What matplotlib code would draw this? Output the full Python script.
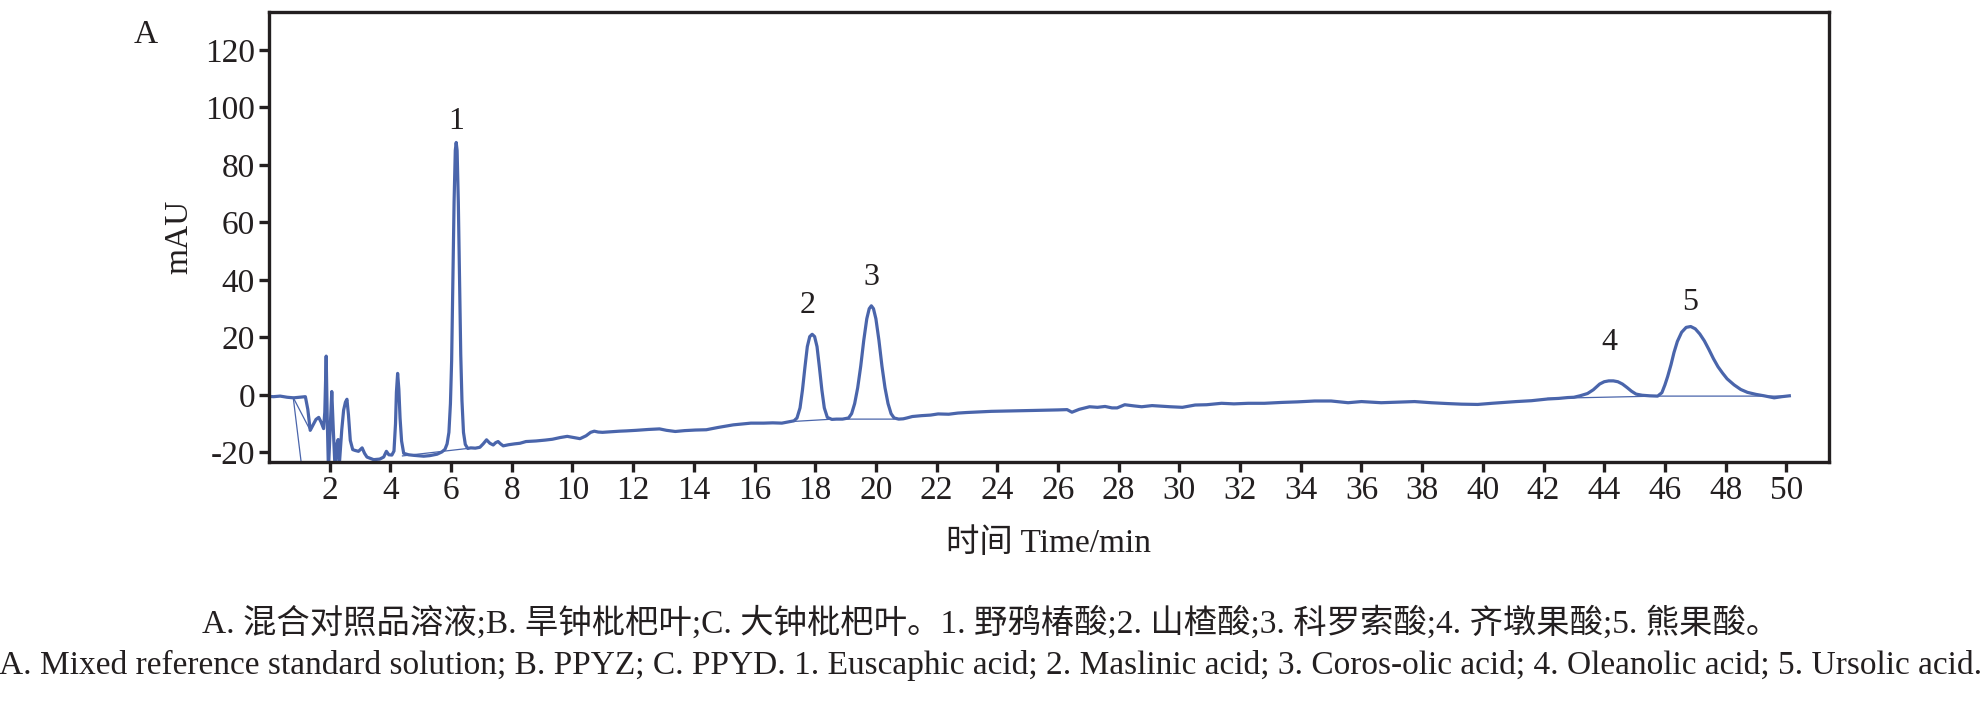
import matplotlib
matplotlib.use("Agg")
import matplotlib.pyplot as plt

# chromatogram trace (time in min, signal in mAU)
t_min = [0.00, 0.15, 0.37, 0.60, 0.81, 1.00, 1.20, 1.28, 1.36, 1.45, 1.55, 1.64, 1.72, 1.80,
         1.84, 1.886, 1.92, 1.96, 2.01, 2.07, 2.12, 2.18, 2.24, 2.28, 2.32, 2.40, 2.46, 2.52,
         2.57, 2.62, 2.68, 2.76, 2.84, 2.95, 3.07, 3.15, 3.23, 3.45, 3.65, 3.78, 3.87, 3.95,
         4.05, 4.12, 4.17, 4.20, 4.24, 4.28, 4.32, 4.37, 4.44, 4.60, 4.77, 5.10, 5.30, 5.54,
         5.70,
         # peak 1
         5.80, 5.87, 5.93, 5.98, 6.02, 6.06, 6.10, 6.14, 6.17, 6.20, 6.24, 6.28, 6.32, 6.36,
         6.41, 6.47, 6.55,
         6.65, 6.80, 6.95, 7.06, 7.17, 7.28, 7.39, 7.47, 7.55, 7.63, 7.72, 7.90, 8.10, 8.27,
         8.47, 8.80, 9.10, 9.34, 9.60, 9.83, 10.05, 10.25, 10.45, 10.60, 10.72, 10.85, 10.99,
         11.25, 11.55, 11.77, 12.10, 12.50, 12.87, 13.10, 13.39, 13.70, 14.05, 14.41, 14.80,
         15.30, 15.60, 15.88, 16.30, 16.60, 16.90, 17.10,
         # peak 2
         17.30, 17.40, 17.50, 17.58, 17.66, 17.74, 17.82, 17.90, 17.98, 18.06, 18.14, 18.22,
         18.30, 18.40, 18.55, 18.70, 18.90,
         # peak 3
         19.10, 19.20, 19.30, 19.40, 19.50, 19.60, 19.70, 19.78, 19.85, 19.92, 20.00, 20.10,
         20.20, 20.30, 20.40, 20.50, 20.60, 20.75,
         20.90, 21.02, 21.20, 21.50, 21.80, 22.05, 22.40, 22.70, 23.00, 23.37, 23.50, 23.80,
         24.20, 24.60, 25.14, 25.60, 26.00, 26.30, 26.46, 26.70, 27.04, 27.30, 27.55, 27.78,
         27.95, 28.20, 28.50, 28.76, 29.10, 29.40, 29.70, 30.10, 30.52, 30.90, 31.39, 31.80,
         32.27, 32.80, 33.37, 33.90, 34.46, 35.00, 35.56, 36.00, 36.30, 36.65, 37.20, 37.75,
         38.30, 38.85, 39.30, 39.83, 40.30, 40.70, 41.10, 41.60, 42.14, 42.50, 42.80, 43.00,
         # peak 4
         43.20, 43.45, 43.64, 43.85, 44.00, 44.15, 44.30, 44.45, 44.60, 44.75, 44.90, 45.05,
         45.25, 45.50, 45.76,
         # peak 5
         45.90, 46.00, 46.09, 46.20, 46.30, 46.41, 46.55, 46.70, 46.85, 47.00, 47.15, 47.30,
         47.45, 47.60, 47.75, 47.90, 48.05, 48.28, 48.50, 48.72, 49.00, 49.27, 49.60, 49.85,
         50.10]

mau = [-0.5, -0.6, -0.4, -0.8, -1.0, -0.8, -0.6, -5.0, -12.3, -10.5, -8.5, -7.8, -9.5, -11.7,
       -6.0, 13.5, -8.0, -26.0, -14.0, 1.2, -12.0, -26.0, -17.0, -15.5, -24.0, -12.0, -5.3, -2.5,
       -1.5, -7.0, -15.8, -19.0, -19.3, -19.6, -18.4, -20.3, -21.6, -22.5, -22.3, -21.6, -19.6, -20.8,
       -20.9, -19.5, -10.0, 1.0, 7.5, 2.0, -8.0, -16.0, -20.3, -20.8, -21.0, -21.3, -21.1, -20.6,
       -19.8,
       -18.9, -17.0, -13.0, -3.0, 12.0, 40.0, 67.0, 85.0, 87.8, 85.0, 67.0, 40.0, 14.0, -2.0,
       -13.0, -17.2, -18.6,
       -18.4, -18.5, -18.2, -17.0, -15.6, -16.8, -17.4, -16.6, -16.2, -17.0, -17.7, -17.3, -17.0, -16.8,
       -16.2, -16.0, -15.7, -15.4, -14.8, -14.4, -14.8, -15.2, -14.2, -13.0, -12.6, -12.9, -13.0,
       -12.8, -12.6, -12.5, -12.3, -12.0, -11.8, -12.3, -12.7, -12.4, -12.2, -12.1, -11.3,
       -10.4, -10.1, -9.8, -9.8, -9.7, -9.8, -9.4,
       -9.0, -8.0, -4.5, 1.7, 9.5, 16.8, 20.3, 21.1, 20.3, 16.8, 9.5, 1.7,
       -4.5, -7.8, -8.5, -8.4, -8.4,
       -8.0, -6.5, -3.0, 2.5, 10.0, 19.0, 26.5, 30.0, 31.0, 30.0, 26.5, 19.0,
       10.0, 2.5, -3.0, -6.5, -8.0, -8.4,
       -8.3, -8.0, -7.5, -7.2, -7.0, -6.6, -6.7, -6.3, -6.1, -5.9, -5.8, -5.7,
       -5.6, -5.5, -5.4, -5.3, -5.2, -5.1, -6.0, -5.0, -4.1, -4.3, -4.0, -4.5,
       -4.5, -3.4, -3.8, -4.1, -3.7, -3.9, -4.1, -4.3, -3.5, -3.4, -2.9, -3.1,
       -2.9, -2.9, -2.6, -2.4, -2.1, -2.1, -2.7, -2.3, -2.5, -2.7, -2.5, -2.3,
       -2.7, -3.0, -3.2, -3.3, -2.9, -2.6, -2.3, -2.0, -1.4, -1.2, -0.9, -0.8,
       -0.3, 0.5, 1.8, 3.8, 4.6, 4.9, 4.9, 4.6, 3.8, 2.6, 1.3, 0.3,
       -0.1, -0.3, -0.4,
       0.8, 3.5, 6.4, 10.5, 14.8, 18.6, 21.8, 23.5, 23.8, 23.0, 21.2, 18.8,
       15.8, 12.6, 9.8, 7.6, 5.6, 3.5, 1.9, 0.9, 0.2, -0.3, -1.0, -0.6,
       -0.3]

# integration baselines (thin lines)
base_t = [[0.80, 1.08], [0.80, 1.36], [4.40, 6.55], [17.30, 18.60, 20.60], [42.14, 45.76, 50.10]]
base_y = [[-0.9, -25.0], [-0.9, -12.3], [-21.2, -18.6], [-9.2, -8.4, -8.4], [-1.2, -0.4, -0.4]]

# peak numbers
peak_names = ["1", "2", "3", "4", "5"]
peak_t = [6.17, 17.76, 19.84, 44.17, 46.83]
peak_y = [95.0, 31.0, 40.7, 18.3, 32.3]

y_ticks = [-20, 0, 20, 40, 60, 80, 100, 120]
y_ticklabels = ["-20", "0", "20", "40", "60", "80", "100", "120"]

caption_cn = "A. 混合对照品溶液;B. 旱钟枇杷叶;C. 大钟枇杷叶。1. 野鸦椿酸;2. 山楂酸;3. 科罗索酸;4. 齐墩果酸;5. 熊果酸。"
caption_en = ("A. Mixed reference standard solution; B. PPYZ; C. PPYD. 1. Euscaphic acid; "
              "2. Maslinic acid; 3. Coros-olic acid; 4. Oleanolic acid; 5. Ursolic acid.")

fams = ["Liberation Serif", "Noto Sans CJK SC"]
plt.rcParams["font.family"] = fams
ink = "#231f20"
blue = "#4a65ab"

fig = plt.figure(figsize=(19.82, 7.01), dpi=100)
ax = fig.add_axes([0.1357, 0.341, 0.787, 0.642])

ax.plot(t_min, mau, color=blue, lw=2.3, solid_joinstyle="round")
for bt, by in zip(base_t, base_y):
    ax.plot(bt, by, color=blue, lw=0.9)

for name, x, y in zip(peak_names, peak_t, peak_y):
    ax.text(x, y, name, ha="center", va="center", fontsize=23, color=ink)

ax.set_xlim(0, 51.4)
ax.set_ylim(-23.3, 133.2)
ax.set_xticks(range(2, 51, 2))
ax.set_yticks(y_ticks)
ax.set_yticklabels(y_ticklabels)

for s in ax.spines.values():
    s.set_linewidth(2.4)
    s.set_color(ink)
ax.tick_params(direction="out", length=7, width=2.4, colors=ink, labelsize=24, pad=3)

ax.set_xlabel("时间 Time/min", fontsize=24, color=ink, labelpad=16)
ax.set_ylabel("mAU", fontsize=24, color=ink, labelpad=8)

fig.text(0.0734, 0.951, "A", fontsize=24, color=ink, ha="center", va="center")
fig.text(0.5, 0.111, caption_cn, fontsize=24, color=ink, ha="center", va="center")
fig.text(0.5, 0.05, caption_en, fontsize=24, color=ink, ha="center", va="center")

fig.savefig("out.png", dpi=100)
